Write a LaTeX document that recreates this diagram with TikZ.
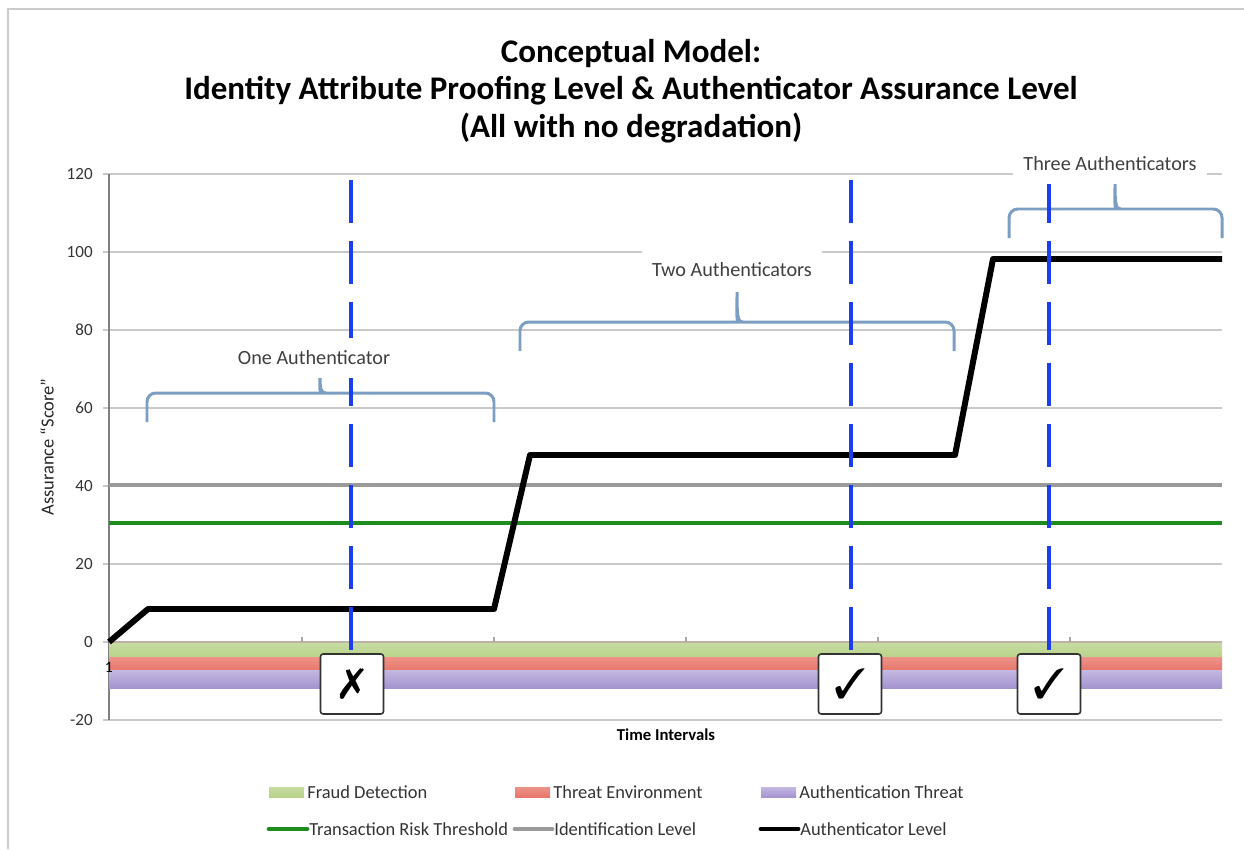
\documentclass[tikz,border=0pt]{standalone}
\usepackage{fontspec}
\usepackage{pifont}
\setmainfont{Carlito}
\usetikzlibrary{positioning}

\definecolor{fraudgreen}{HTML}{B9D38A}
\definecolor{threatred}{HTML}{E8776B}
\definecolor{authpurple}{HTML}{A493D0}
\definecolor{riskgreen}{HTML}{1E8C1E}
\definecolor{idgray}{HTML}{9A9A9A}
\definecolor{gridgray}{HTML}{C9C9C9}
\definecolor{markblue}{HTML}{1C3DF0}
\definecolor{bracecol}{HTML}{7C9EC2}
\definecolor{framegray}{HTML}{CBCBCB}

\tikzset{
  grid line/.style={gridgray, line width=1.3pt},
  level line/.style={line width=2.8pt},
  marker line/.style={markblue, line width=2.2pt, dash pattern=on 0.86cm off 0.36cm},
  verdict box/.style={draw=black!80, fill=white, line width=0.9pt, rounded corners=1.5pt,
    minimum width=1.26cm, minimum height=1.2cm, inner sep=0pt,
    font=\fontsize{24}{24}\selectfont},
  span brace/.style={bracecol, line width=1.7pt},
  span label/.style={fill=white, text=black!75, font=\fontsize{11.5}{13}\selectfont,
    inner xsep=0.2cm, minimum height=0.8cm},
  legend text/.style={anchor=west, inner sep=0pt, text=black!80, font=\fontsize{10.5}{12}\selectfont},
  tick label/.style={anchor=east, inner sep=0pt, text=black!80, font=\fontsize{9.7}{11}\selectfont},
}

\begin{document}
\begin{tikzpicture}[x=0.02cm, y=-0.02cm]
  \useasboundingbox (0,0) rectangle (1244,849);
  \draw[framegray, line width=1.7pt] (8,849) -- (8,9) -- (1244,9);

  % title
  \node[align=center, font=\bfseries\fontsize{18.8}{21.5}\selectfont] (title) at (631,91)
    {Conceptual Model:\\Identity Attribute Proofing Level \& Authenticator Assurance Level\\(All with no degradation)};

  % grid and y axis
  \foreach \v in {-20,0,...,120}
    {
      \pgfmathsetmacro\py{642-3.9*\v}
      \draw[grid line] (103,\py) -- (1222,\py);
      \node[tick label] (tick\v) at (93,\py) {\v};
    }
  \draw[black!50, line width=0.8pt] (109,174) -- (109,720);
  \node[rotate=90, text=black!85, font=\fontsize{10.5}{12}\selectfont] (ylabel) at (47,447) {Assurance “Score”};

  % bands below zero
  \shade[top color=fraudgreen!80, bottom color=fraudgreen] (109,643) rectangle (1222,657);
  \shade[top color=threatred!80, bottom color=threatred] (109,657) rectangle (1222,670);
  \shade[top color=authpurple!65, bottom color=authpurple] (109,670) rectangle (1222,688);
  \draw[brown!30!gray!60, line width=0.7pt] (109,642) -- (1222,642);
  \foreach \x in {302,494,686,878,1070}
    \draw[gray!70, line width=0.6pt] (\x,637) -- (\x,642);
  \node[font=\fontsize{9}{10}\selectfont, inner sep=0pt] (first) at (109,667) {1};

  % levels
  \draw[level line, idgray] (109,485) -- (1222,485);
  \draw[level line, riskgreen] (109,523) -- (1222,523);
  \draw[black, line width=3.4pt, line join=round]
    (109,642) -- (148,609) -- (494,609) -- (530,455) -- (955,455) -- (993,259) -- (1222,259);

  % braces
  \foreach \xa/\xb/\xm/\yh/\yb/\yp in {147/494/320/393/422/377, 520/954/737/322/351/292, 1009/1222/1115/209/238/182}
    \draw[span brace] (\xa,\yb) [rounded corners=5pt] -- (\xa,\yh) -- (\xm-6,\yh) [sharp corners]
      .. controls (\xm-1,\yh) and (\xm,\yh-4) .. (\xm,\yp)
      .. controls (\xm,\yh-4) and (\xm+1,\yh) .. (\xm+6,\yh) [rounded corners=5pt]
      -- (\xb,\yh) -- (\xb,\yb);

  % markers and verdicts
  \foreach \x in {351,851,1049}
    \draw[marker line] (\x,180) -- (\x,656);
  \node[verdict box] (fail) at (352,684) {\ding{55}};
  \node[verdict box] (passA) at (850,684) {\ding{51}};
  \node[verdict box] (passB) at (1049,684) {\ding{51}};

  \node[span label] (one) at (314,358) {One Authenticator};
  \node[span label] (two) at (732,270) {Two Authenticators};
  \node[span label] (three) at (1110,164) {Three Authenticators};

  \node[font=\bfseries\fontsize{9.5}{11}\selectfont] (xlabel) at (666,735) {Time Intervals};

  % legend
  \shade[top color=fraudgreen!80, bottom color=fraudgreen] (269,787) rectangle (304,797);
  \node[legend text] (lgFraud) at (307,792) {Fraud Detection};
  \shade[top color=threatred!80, bottom color=threatred] (515,787) rectangle (550,797);
  \node[legend text] (lgThreat) at (553,792) {Threat Environment};
  \shade[top color=authpurple!65, bottom color=authpurple] (761,787) rectangle (796,797);
  \node[legend text] (lgAuth) at (799,792) {Authentication Threat};
  \draw[level line, riskgreen, line cap=round] (269,829) -- (307,829);
  \node[legend text] (lgRisk) at (309,829) {Transaction Risk Threshold};
  \draw[level line, idgray, line cap=round] (515,829) -- (552,829);
  \node[legend text] (lgIdent) at (554,829) {Identification Level};
  \draw[level line, black, line cap=round] (761,829) -- (798,829);
  \node[legend text] (lgLevel) at (800,829) {Authenticator Level};
\end{tikzpicture}
\end{document}
